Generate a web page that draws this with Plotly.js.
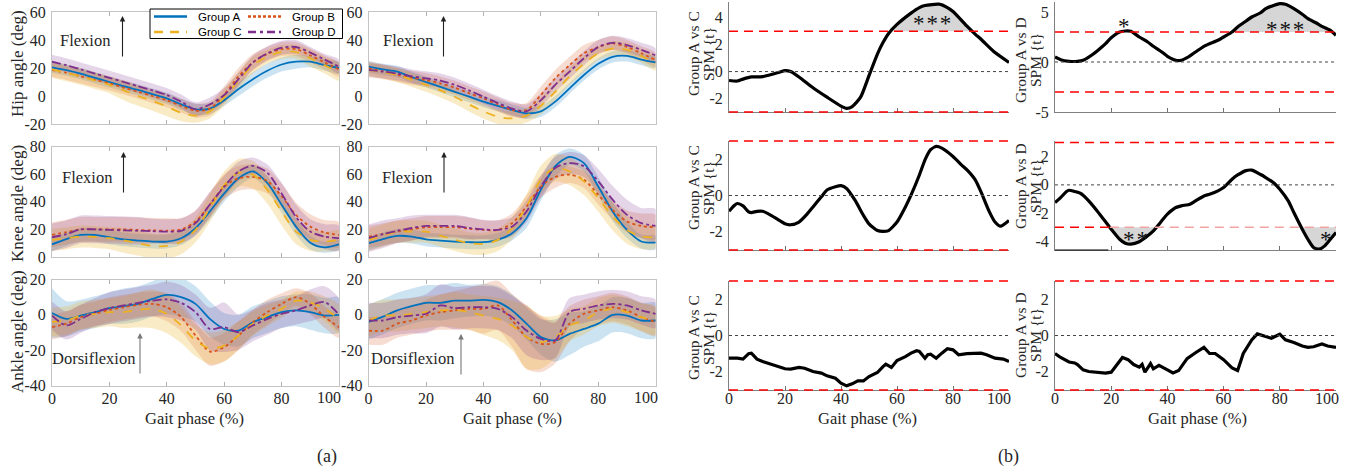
<!DOCTYPE html>
<html><head><meta charset="utf-8">
<script src="https://cdn.plot.ly/plotly-3.0.1.min.js"></script>
<style>html,body{margin:0;padding:0;background:#fff}#chart{width:1351px;height:469px}</style>
</head><body><div id="chart"></div>
<script>
// ---------------- DATA ----------------
const phase = [0,5,10,15,20,25,30,35,40,45,50,55,60,65,70,75,80,85,90,95,100];
const groupNames = ['Group A','Group B','Group C','Group D'];

// Hip, first column
const hip1A = [20.5,18.5,16,13,10,7,4.3,1.3,-1.7,-6,-9.5,-9,-3,5,12,18,22.5,24.5,24.5,22,20];
const hip1B = [18.5,16.5,14,11.5,9,6,3,0,-3,-7,-10.5,-9,1,14,24,30,33.5,33.5,29,24,19];
const hip1C = [19,16.5,14,11,8,4,0,-3.5,-7.5,-12,-14,-11,-1,11,22,28,31.5,31.5,27,22,17];
const hip1D = [24.5,22,19,16,13,10,7,4,0.7,-4,-9.5,-6,0.7,12,24,30.5,34.5,35,31,26,21];
const hip1Asd = [4,4,4,4,4,4,4,4,4,4,4,4,4,5,5,5,5,5,4,4,4];
const hip1Bsd = [5,5,5,5,5,5,5,5,5,5,5,5,6,6,6,5,5,5,5,5,5];
const hip1Csd = [6,6,6,6,6,7,7,7,7,6,5,5,6,6,6,5,5,5,6,6,6];
const hip1Dsd = [5,5,5,5,5,5,5,5,5,5,5,5,5,5,5,5,5,5,4,4,5];
// Hip, second column
const hip2A = [21,19,17.4,13.5,10,6.5,3,-0.5,-4,-7,-10,-12.4,-11,-4,5.5,15,23,28,28.6,26,24];
const hip2B = [19.8,17.5,15,13,11.4,9,6,2,-1.7,-6,-10,-10,0.7,12.6,22,30.5,35,37.6,35,30.5,25.7];
const hip2C = [18.6,17,15,11.5,8,4,-0.5,-6,-11,-14.8,-16,-14,-7,3,14,23,30.5,34,33,28.6,23.3];
const hip2D = [18.6,17.5,16,14,12.6,11,8,4,-0.5,-5,-9,-11,-3,8,17.4,27,35,38,36.4,33,29];
const hip2Asd = [4,4,4,4,4,4,4,4,4,4,4,4,4,4,4,4,4,4,4,4,4];
const hip2Bsd = [5,5,5,5,5,5,5,5,5,5,5,5,6,6,6,6,5,5,5,5,5];
const hip2Csd = [5,5,5,5,5,5,5,5,5,5,5,5,6,6,6,6,5,5,5,5,5];
const hip2Dsd = [5,5,5,5,5,5,5,5,5,5,5,5,5,5,5,5,5,5,5,5,5];
// Knee, first column
const knee1A = [9.2,13,16,16,14.3,12.8,11.9,11.2,11.2,13.6,20.8,33,46,57,62,53.6,37.8,22,10.4,7,9.2];
const knee1B = [16,18,20,20,20,20,19.6,19.3,19,20,25.7,37.8,51,57,58,55,44,30.5,22,17.7,16];
const knee1C = [12.4,13.5,14.8,14.5,13.6,12,10,8,8,11,19.6,35.4,52,61,59.6,48.7,33,18.4,12.4,11,12.4];
const knee1D = [14.3,16.5,20,20,19.6,19.3,19,18.7,18.4,19,24.5,38,51,62,66,61,46,29,18.4,14.8,13.6];
const knee1Asd = [5,5,5,5,5,5,5,5,5,5,5,6,6,6,5,5,6,6,5,4,4];
const knee1Bsd = [9,9,9,9,9,9,9,9,9,8,8,9,9,9,9,9,9,9,9,9,9];
const knee1Csd = [8,8,8,8,8,9,9,9,9,9,9,10,10,10,10,10,10,9,8,7,7];
const knee1Dsd = [10,10,10,10,10,10,10,9,9,9,9,9,8,7,6,6,8,9,9,9,9];
// Knee, second column
const knee2A = [10,13,15.3,14.8,12.8,11.9,11.2,10.7,10.7,12.4,17.2,28,48.7,65.7,72.5,68,51,33,19.6,11.2,10.4];
const knee2B = [14.8,16.5,18.4,20,21.6,21.6,21.6,20.5,19.6,19.6,24.5,36.6,51,58,59.6,56,45,34,25.7,22.5,21.6];
const knee2C = [12.4,15.5,18.4,18.4,18.4,15.5,12.4,10,9.5,12.4,20.8,36.6,56,64.5,62,54.8,42.7,29.3,19.6,14.8,14.3];
const knee2D = [13.6,16.5,19,21,22.5,22.5,22.5,21,20,19.6,22,33,51,64.5,68,65.7,54.8,41.5,30.5,24.5,22.5];
const knee2Asd = [5,5,5,5,5,5,5,5,5,5,5,7,8,8,6,6,7,7,6,5,5];
const knee2Bsd = [8,8,8,8,8,8,8,8,7,7,7,8,8,8,6,6,7,7,8,9,9];
const knee2Csd = [8,8,8,8,8,8,8,8,8,8,8,9,10,10,10,10,10,10,10,9,8];
const knee2Dsd = [10,10,9,9,8,8,8,8,7,7,7,8,8,8,8,8,9,10,11,11,12];
// Ankle, first column
const ankle1A = [1,-2.3,-0.4,1.5,3.8,4.9,6.2,9,11.3,10,6.2,-2.3,-8,-8.9,-4.2,-1.3,1.5,2.5,1.5,-0.4,0];
const ankle1B = [-7,-5,-1.3,0.6,2.8,4.3,5.7,6.2,4.3,-1.3,-11.7,-20.8,-18.3,-11.7,-4.2,1.5,6.2,10,6.2,-1.3,-7];
const ankle1C = [-4,-3.2,-0.4,0.5,1.5,1.5,2.8,3.4,0.6,-6,-14.5,-19,-17.4,-11.7,-5,-0.4,3.4,8,7,3.4,-2.3];
const ankle1D = [-0.4,-6,-2.3,1.5,3.8,5.3,6.8,8,8.7,6.8,1.5,-8,-7,-9.8,-6,-2.3,0.6,2.5,5.3,7.2,0];
const ankle1Asd = [14,10,9,9,9,10,10,10,11,11,10,10,9,9,9,9,9,9,10,10,10];
const ankle1Bsd = [7,7,7,7,7,7,7,7,8,8,8,8,8,8,7,7,6,5,6,6,6];
const ankle1Csd = [8,8,8,8,8,9,10,11,11,10,9,9,9,8,7,6,5,5,6,7,8];
const ankle1Dsd = [8,8,8,8,9,9,9,9,10,10,10,12,14,10,9,9,8,8,9,9,9];
// Ankle, second column
const ankle2A = [-4,-1,2.5,4.9,6.8,6.8,8,8,8.5,7.2,2.5,-5,-12.6,-14.5,-10.8,-8,-5,0,-0.4,-3.2,-3.2];
const ankle2B = [-8.9,-8.9,-5,-3.2,-0.4,1.5,2.5,3.4,3.4,5.3,-3.2,-12.6,-16.4,-15.5,-5,0.6,2.5,4.3,2.5,-1.3,-4];
const ankle2C = [-3.2,-0.4,-0.4,0.5,1.5,2.5,2.8,1.5,-0.4,-2.3,-6,-12.6,-15.5,-12.6,-6,-3.2,1.5,3.4,1.5,-1.3,-3.2];
const ankle2D = [-3.2,-3.2,-1.3,-0.4,0.6,5.3,3.8,4.3,4.3,3.4,-1.3,-8.9,-13.6,-14.5,1.5,3.4,5.3,6.2,5.3,2.5,0.6];
const ankle2Asd = [10,10,10,10,10,10,10,9,9,9,9,9,10,12,12,10,10,10,10,10,10];
const ankle2Bsd = [8,8,8,8,9,10,11,12,14,14,15,18,16,12,10,8,8,8,8,8,8];
const ankle2Csd = [9,9,9,9,9,9,10,10,11,12,14,18,15,12,9,8,8,8,8,8,8];
const ankle2Dsd = [10,10,10,10,11,12,12,12,12,12,12,14,12,10,8,8,8,8,8,8,8];

// SPM {t} curves
const spmHipAC_x = [0,3,5,8,10,12,15,18,20,22,25,30,35,40,42,44,47,50,53,55,57,60,65,68,70,75,78,80,85,88,90,95,100];
const spmHipAC_t = [-0.66,-0.7,-0.56,-0.4,-0.4,-0.37,-0.22,-0.05,0.07,0,-0.4,-1.2,-1.9,-2.56,-2.73,-2.6,-1.9,-0.3,1.3,2.15,2.83,3.5,4.34,4.75,4.9,5.0,4.75,4.46,3.37,2.76,2.4,1.41,0.68];
const spmHipAD_x = [0,2,5,8,10,13,15,18,20,23,25,27,30,33,35,38,40,43,45,47,50,53,55,58,60,63,65,68,70,73,75,78,80,82,85,88,90,93,95,98,100];
const spmHipAD_t = [0.5,0.23,0.07,0.07,0.17,0.67,1.1,1.83,2.43,3.0,3.1,3.07,2.5,2.0,1.57,1.0,0.57,0.17,0.17,0.43,1.0,1.57,1.83,2.17,2.5,3.0,3.5,4.1,4.5,4.9,5.33,5.67,5.83,5.77,5.33,4.77,4.33,3.9,3.57,3.17,2.67];
const spmKneeAC_x = [0,2,3,5,7,8,10,12,15,18,20,22,25,28,30,33,35,38,40,42,45,48,50,53,55,57,60,63,65,68,70,72,74,76,80,83,85,88,90,93,95,97,100];
const spmKneeAC_t = [-0.87,-0.54,-0.44,-0.57,-0.9,-0.94,-0.87,-0.87,-1.09,-1.37,-1.56,-1.61,-1.46,-1.0,-0.63,-0.07,0.3,0.48,0.54,0.39,-0.26,-1.09,-1.56,-1.93,-1.98,-1.93,-1.46,-0.63,0.02,1.13,1.96,2.52,2.7,2.61,2.15,1.69,1.41,0.85,0.2,-0.9,-1.46,-1.69,-1.37];
const spmKneeAD_x = [0,2,4,5,7,9,10,12,15,18,20,23,25,27,30,33,35,38,40,43,45,48,50,53,55,58,60,63,65,68,70,73,75,78,80,83,85,88,90,92,94,96,98,100];
const spmKneeAD_t = [-1.25,-0.9,-0.49,-0.38,-0.47,-0.59,-0.73,-1.13,-1.84,-2.61,-3.13,-3.84,-4.12,-4.19,-4.02,-3.6,-3.25,-2.54,-2.07,-1.6,-1.48,-1.36,-1.13,-0.78,-0.66,-0.42,-0.19,0.4,0.7,1.01,1.04,0.75,0.52,0.12,-0.31,-1.13,-1.95,-3.13,-3.84,-4.42,-4.54,-4.31,-3.84,-3.36];
const spmAnkleAC_x = [0,3,5,7,8,10,12,15,18,20,22,25,27,30,33,35,38,40,42,44,46,48,50,53,55,56,58,60,63,65,67,68,70,71,72,74,76,78,80,82,85,88,90,92,95,98,100];
const spmAnkleAC_t = [-1.25,-1.25,-1.3,-1.0,-0.97,-1.3,-1.43,-1.58,-1.76,-1.83,-1.85,-1.76,-1.8,-1.98,-2.07,-2.22,-2.35,-2.62,-2.77,-2.66,-2.5,-2.5,-2.26,-2.04,-1.71,-1.58,-1.76,-1.38,-1.16,-0.97,-0.84,-0.88,-1.25,-1.06,-1.03,-1.25,-0.97,-0.73,-0.79,-1.06,-1.0,-0.97,-0.97,-1.06,-1.25,-1.3,-1.43];
const spmAnkleAD_x = [0,2,5,7,8,10,12,15,18,20,22,24,26,28,30,31,32,34,35,37,40,42,44,47,50,53,55,57,60,63,65,67,70,72,75,77,80,82,85,88,90,92,95,97,100];
const spmAnkleAD_t = [-0.99,-1.21,-1.46,-1.51,-1.6,-1.89,-1.98,-2.02,-2.07,-2.02,-1.64,-1.21,-1.33,-1.6,-1.74,-1.59,-2.02,-1.55,-1.83,-1.64,-1.89,-2.06,-1.93,-1.27,-0.95,-0.65,-0.99,-0.99,-1.33,-1.78,-1.93,-0.99,-0.24,0.09,-0.06,-0.15,0.07,-0.24,-0.39,-0.58,-0.65,-0.62,-0.47,-0.58,-0.65];
const spmThreshold = 3.0;

// ---------------- STYLE ----------------
const W = 1351, H = 469;
const SERIF = 'Liberation Serif, Times New Roman, serif';
const SANS = 'Liberation Sans, Arial, sans-serif';
const TXT = '#262626';
const lineColors = ['#0072BD','#D95319','#EDB120','#7E2F8E'];
const fillColors = ['rgba(0,114,189,0.2)','rgba(217,83,25,0.2)','rgba(237,177,32,0.25)','rgba(126,47,142,0.2)'];
const dashes = ['solid','dot','dash','dashdot'];

const anglePanels = [
  {n:1, means:[hip1A,hip1B,hip1C,hip1D], sds:[hip1Asd,hip1Bsd,hip1Csd,hip1Dsd]},
  {n:2, means:[hip2A,hip2B,hip2C,hip2D], sds:[hip2Asd,hip2Bsd,hip2Csd,hip2Dsd]},
  {n:3, means:[knee1A,knee1B,knee1C,knee1D], sds:[knee1Asd,knee1Bsd,knee1Csd,knee1Dsd]},
  {n:4, means:[knee2A,knee2B,knee2C,knee2D], sds:[knee2Asd,knee2Bsd,knee2Csd,knee2Dsd]},
  {n:5, means:[ankle1A,ankle1B,ankle1C,ankle1D], sds:[ankle1Asd,ankle1Bsd,ankle1Csd,ankle1Dsd]},
  {n:6, means:[ankle2A,ankle2B,ankle2C,ankle2D], sds:[ankle2Asd,ankle2Bsd,ankle2Csd,ankle2Dsd]}
];
const spmPanels = [
  {n:7,  r:0, c:0, x:spmHipAC_x, t:spmHipAC_t, smooth:true},
  {n:8,  r:0, c:1, x:spmHipAD_x, t:spmHipAD_t, smooth:true},
  {n:9,  r:1, c:0, x:spmKneeAC_x, t:spmKneeAC_t, smooth:true},
  {n:10, r:1, c:1, x:spmKneeAD_x, t:spmKneeAD_t, smooth:true},
  {n:11, r:2, c:0, x:spmAnkleAC_x, t:spmAnkleAC_t, smooth:false},
  {n:12, r:2, c:1, x:spmAnkleAD_x, t:spmAnkleAD_t, smooth:false}
];
const ax = n => ({xaxis: n===1?'x':'x'+n, yaxis: n===1?'y':'y'+n});

const traces = [];
anglePanels.forEach(p => {
  p.means.forEach((m, g) => {
    const up = m.map((v,i)=>v+p.sds[g][i]);
    const lo = m.map((v,i)=>v-p.sds[g][i]);
    traces.push(Object.assign({
      type:'scatter', mode:'lines', x: phase.concat(phase.slice().reverse()),
      y: up.concat(lo.slice().reverse()), fill:'toself', fillcolor: fillColors[g],
      line:{width:0, shape:'spline', smoothing:0.8}, hoverinfo:'skip', showlegend:false
    }, ax(p.n)));
  });
});
anglePanels.forEach(p => {
  p.means.forEach((m, g) => {
    traces.push(Object.assign({
      type:'scatter', mode:'lines', x: phase, y: m, name: groupNames[g],
      line:{color: lineColors[g], width: 1.8, dash: dashes[g], shape:'spline', smoothing:0.8},
      showlegend:false
    }, ax(p.n)));
  });
});
function regions(xs, ts, thr, above) {
  const out = []; let cur = null;
  const inside = v => above ? v > thr : v < thr;
  const cross = i => xs[i-1] + (thr - ts[i-1]) * (xs[i]-xs[i-1]) / (ts[i]-ts[i-1]);
  for (let i=0;i<xs.length;i++) {
    if (inside(ts[i])) {
      if (!cur) { cur = {x:[], y:[]}; cur.x.push(i>0 ? cross(i) : xs[i]); cur.y.push(thr); }
      cur.x.push(xs[i]); cur.y.push(ts[i]);
    } else if (cur) {
      cur.x.push(cross(i)); cur.y.push(thr); out.push(cur); cur = null;
    }
  }
  if (cur) { cur.x.push(xs[xs.length-1]); cur.y.push(thr); out.push(cur); }
  return out;
}
spmPanels.forEach(p => {
  regions(p.x, p.t, spmThreshold, true).concat(regions(p.x, p.t, -spmThreshold, false)).forEach(r => {
    traces.push(Object.assign({type:'scatter', mode:'lines', x:r.x, y:r.y, fill:'toself',
      fillcolor:'rgba(200,200,200,0.75)', line:{width:0}, hoverinfo:'skip', showlegend:false}, ax(p.n)));
  });
});
spmPanels.forEach(p => {
  traces.push(Object.assign({type:'scatter', mode:'lines', x:p.x, y:p.t,
    line:{color:'#000', width:3.2, shape: p.smooth ? 'spline' : 'linear', smoothing:0.6}, showlegend:false}, ax(p.n)));
});

// ---------------- LAYOUT ----------------
const layout = {width:W, height:H, margin:{l:0,r:0,t:0,b:0}, paper_bgcolor:'#fff', plot_bgcolor:'rgba(0,0,0,0)',
  showlegend:false, shapes:[], annotations:[]};

const leftDomX = [[52/W, 339/W],[368.6/W, 655.7/W]];
const leftDomY = [[1-124/H, 1-12/H],[1-257/H, 1-146.5/H],[1-385.5/H, 1-279.5/H]];
const leftRange = [[-20,60],[0,80],[-40,20]];
const leftTicks = [[-20,0,20,40,60],[0,20,40,60,80],[-40,-20,0,20]];
const rightDomX = [[729/W, 1009/W],[1055/W, 1336/W]];
const rightDomY = [[1-112/H, 1-1.5/H],[1-250/H, 1-141/H],[1-390/H, 1-281/H]];
const rightRange = [[[-3,5.2],[-5,6.05]],[[-3,3],[-4.6,3.1]],[[-3,3],[-3,3]]];
const rightTicks = [[[-2,0,2,4],[-5,0,5]],[[-2,0,2],[-4,-2,0,2]],[[-2,0,2],[-2,0,2]]];
const xTicks = [0,20,40,60,80,100];
const lbl = v => String(v);
// the "100" label is drawn separately (pulled inside the box, as in the original)
const xLbl = v => v === 100 ? '' : String(v);

for (let r=0;r<3;r++) for (let c=0;c<2;c++) {
  const n = r*2+c+1;
  const xk = n===1?'xaxis':'xaxis'+n, yk = n===1?'yaxis':'yaxis'+n;
  layout[xk] = {domain:leftDomX[c], range:[0,100], anchor: n===1?'y':'y'+n,
    tickvals:xTicks, ticktext:xTicks.map(xLbl), ticks:'inside', ticklen:4, tickcolor:'#b0b0b0',
    showticklabels: r===2, showline:true, linecolor:'#c4c4c4', linewidth:1, mirror:'ticks',
    showgrid:false, zeroline:false, tickfont:{family:SERIF, size:16, color:TXT}, ticklabelstandoff:-2, fixedrange:true};
  layout[yk] = {domain:leftDomY[r], range:leftRange[r], anchor: n===1?'x':'x'+n,
    tickvals:leftTicks[r], ticktext:leftTicks[r].map(lbl), ticks:'', showline:true, linecolor:'#c4c4c4',
    linewidth:1, mirror:true, showgrid:false, zeroline:false, tickfont:{family:SERIF, size:16, color:TXT},
    ticklabelstandoff:2, fixedrange:true};
}
for (let r=0;r<3;r++) for (let c=0;c<2;c++) {
  const n = 7 + r*2 + c;
  layout['xaxis'+n] = {domain:rightDomX[c], range:[0,100], anchor:'y'+n,
    tickvals:xTicks, ticktext:xTicks.map(xLbl), ticks:'inside', ticklen:4, tickcolor:'#707070',
    showticklabels: r===2, showline:true, linecolor:'#808080', linewidth:1,
    showgrid:false, zeroline:false, tickfont:{family:SERIF, size:16, color:TXT}, ticklabelstandoff:-6, fixedrange:true};
  layout['yaxis'+n] = {domain:rightDomY[r], range:rightRange[r][c], anchor:'x'+n,
    tickvals:rightTicks[r][c], ticktext:rightTicks[r][c].map(lbl), ticks:'', showline:true,
    linecolor:'#808080', linewidth:1, showgrid:false, zeroline:false,
    tickfont:{family:SERIF, size:16, color:TXT}, ticklabelstandoff:2, fixedrange:true};
}

function toPaperX(p, v) { const d = rightDomX[p.c]; return d[0] + v/100*(d[1]-d[0]); }
function toPaperY(p, v) { const d = rightDomY[p.r], rg = rightRange[p.r][p.c]; return d[0] + (v-rg[0])/(rg[1]-rg[0])*(d[1]-d[0]); }
function hline(p, v, x0, x1, line) {
  layout.shapes.push({type:'line', xref:'paper', yref:'paper', x0:toPaperX(p,x0), x1:toPaperX(p,x1),
    y0:toPaperY(p,v), y1:toPaperY(p,v), line, layer:'above'});
}
const redDash = {color:'#ff0000', width:1.5, dash:'9px,6px'};
spmPanels.forEach(p => {
  hline(p, 0, 0, 100, {color:'#444', width:1, dash:'dot'});
  hline(p, spmThreshold, 0, 100, redDash);
  if (p.n === 10) {
    hline(p, -spmThreshold, 0, 19.5, redDash);
    hline(p, -spmThreshold, 19.5, 100, {color:'#f4a3a3', width:1.5, dash:'9px,6px'});
    hline(p, rightRange[p.r][p.c][0], 0, 19, {color:'#000', width:1.2});
  } else {
    hline(p, -spmThreshold, 0, 100, redDash);
  }
});

const PX = x => x / W, PY = y => 1 - y / H;
function txt(text, x, y, size, opts) {
  layout.annotations.push(Object.assign({text, x:PX(x), y:PY(y), xref:'paper', yref:'paper', showarrow:false,
    font:{family:SERIF, size, color:TXT}, xanchor:'center', yanchor:'middle'}, opts||{}));
}
function arrow(x, yHead, len, color) {
  layout.annotations.push({text:'', x:PX(x), y:PY(yHead), xref:'paper', yref:'paper', showarrow:true,
    ax:0, ay:len, axref:'pixel', ayref:'pixel', arrowhead:2, arrowsize:1, arrowwidth:1.1, arrowcolor:color});
}
// "100" tick labels
txt('100', 329, 397, 16); txt('100', 646, 397, 16);
txt('100', 999, 398, 16); txt('100', 1327, 398, 16);

txt('Hip angle (deg)', 17, 64, 17, {textangle:-90});
txt('Knee angle (deg)', 17, 204, 17, {textangle:-90});
txt('Ankle angle (deg)', 17, 332, 17, {textangle:-90});
[[693,708,54,'C'],[693,708,188,'C'],[693,708,338,'C']].forEach(a => {
  txt('Group A vs '+a[3], a[0], a[2], 15.5, {textangle:-90});
  txt('SPM {t}', a[1], a[2], 15.5, {textangle:-90});
});
[[1020,1035,60,'D'],[1020,1035,186,'D'],[1020,1035,335,'D']].forEach(a => {
  txt('Group A vs '+a[3], a[0], a[2], 15.5, {textangle:-90});
  txt('SPM {t}', a[1], a[2], 15.5, {textangle:-90});
});
[195, 512, 868, 1197].forEach(x => txt('Gait phase (%)', x, 418, 16.5));
txt('(a)', 327, 456, 18);
txt('(b)', 1009, 456, 18);
txt('Flexion', 85, 40, 16.5); arrow(122.5, 16, 42, '#222');
txt('Flexion', 408, 40, 16.5); arrow(443.5, 16, 42, '#222');
txt('Flexion', 87, 177, 16.5); arrow(123.5, 152, 42, '#222');
txt('Flexion', 407, 177, 16.5); arrow(444, 152, 42, '#222');
txt('Dorsiflexion', 93, 358, 16.5); arrow(140, 333, 42, '#777');
txt('Dorsiflexion', 413, 358, 16.5); arrow(461, 334, 42, '#777');
function star(text, n, x, y) {
  layout.annotations.push({text, x, y, xref:'x'+n, yref:'y'+n, showarrow:false,
    font:{family:SERIF, size:23, color:'#111'}, xanchor:'center', yanchor:'middle', yshift:-6});
}
const S = '*', SP = '\u200a';
star([S,S,S].join(SP), 7, 72.5, 4.0);
star(S, 8, 24.7, 4.17);
star([S,S,S].join(SP), 8, 81.7, 3.83);
star([S,S].join(SP), 10, 28.7, -3.44);
star(S, 10, 96.4, -3.44);

layout.shapes.push({type:'rect', xref:'paper', yref:'paper', x0:PX(150), x1:PX(342.5), y0:PY(38.5), y1:PY(9),
  line:{color:'#000', width:1}, fillcolor:'#fff', layer:'above'});
const legPos = [[154,16.5],[248,16.5],[154,32],[248,32]];
legPos.forEach((p, g) => {
  layout.shapes.push({type:'line', xref:'paper', yref:'paper', x0:PX(p[0]), x1:PX(p[0]+33), y0:PY(p[1]), y1:PY(p[1]),
    line:{color:lineColors[g], width:2.6, dash: g===1 ? '3px,2px' : g===2 ? '9px,7px' : g===3 ? '8px,4px,3px,4px' : 'solid'}, layer:'above'});
  layout.annotations.push({text:groupNames[g], x:PX(p[0]+42), y:PY(p[1]), xref:'paper', yref:'paper', showarrow:false,
    font:{family:SANS, size:11.5, color:'#000'}, xanchor:'left', yanchor:'middle'});
});

Plotly.newPlot('chart', traces, layout, {displayModeBar:false, staticPlot:true});
</script>
</body></html>
